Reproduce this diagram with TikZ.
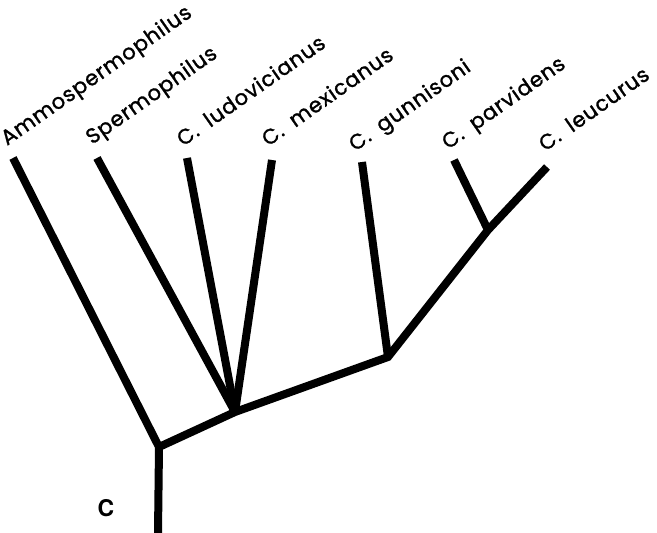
\documentclass[tikz,border=0pt]{standalone}
\usepackage{fontspec}
\setmainfont{Poppins}[AutoFakeBold=1.3,LetterSpace=4,WordSpace=1.8]
\newfontfamily\labfont{TeX Gyre Heros}
\begin{document}
\begin{tikzpicture}[x=1pt,y=-1pt,
  branch/.style={line width=8pt,line join=miter,line cap=butt},
  taxon/.style={rotate=35,anchor=base west,inner sep=0pt,font=\bfseries\fontsize{21}{22}\selectfont}]
\useasboundingbox (0,0) rectangle (657,533);
% tree nodes
\coordinate (base) at (158,533);
\coordinate (n1) at (159,447);
\coordinate (n2) at (235,412);
\coordinate (n3) at (388,357);
\coordinate (n4) at (488,230);
% tips
\coordinate (t1) at (13,158);
\coordinate (t2) at (97,158);
\coordinate (t3) at (187,158);
\coordinate (t4) at (272,160);
\coordinate (t5) at (362,162);
\coordinate (t6) at (454,160);
\coordinate (t7) at (547,167);
% branches
\draw[branch] (t1) -- (n1) -- (base);
\draw[branch] (n1) -- (n2) -- (n3) -- (n4) -- (t7);
\draw[branch] (t2) -- (n2);
\draw[branch] (t3) -- (n2);
\draw[branch] (t4) -- (n2);
\draw[branch] (t5) -- (n3);
\draw[branch] (t6) -- (n4);
% labels
\node[taxon] (l1) at (7,146) {Ammospermophilus};
\node[taxon] (l2) at (92,145) {Spermophilus};
\node[taxon] (l3) at (183,147) {C. ludovicianus};
\node[taxon] (l4) at (268,147) {C. mexicanus};
\node[taxon] (l5) at (355,152) {C. gunnisoni};
\node[taxon] (l6) at (448,150) {C. parvidens};
\node[taxon] (l7) at (545,152) {C. leucurus};
\node[font=\labfont\bfseries\fontsize{23}{25}\selectfont,inner sep=0pt] (c) at (106,508) {C};
\end{tikzpicture}
\end{document}
